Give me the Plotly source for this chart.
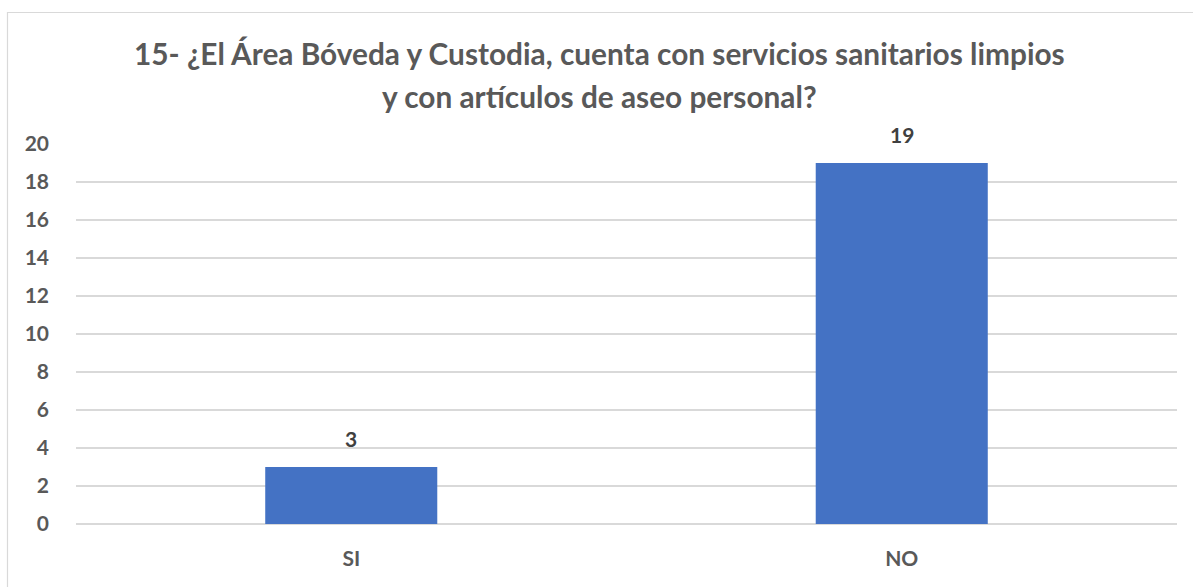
import plotly.graph_objects as go

categories = ["SI", "NO"]
values = [3, 19]
title_lines = ["15- ¿El Área Bóveda y Custodia, cuenta con servicios sanitarios limpios",
               "y con artículos de aseo personal?"]
y_ticks = list(range(0, 21, 2))

W, H = 1193, 587
ml, mr, mt, mb = 76, 16, 144, 63
pw, ph = W - ml - mr, H - mt - mb

def px2x(p):
    return (p - ml) / pw

def py2y(p):
    return (H - mb - p) / ph

fig = go.Figure(go.Bar(
    x=categories, y=values, width=0.3125,
    marker=dict(color="#4472C4", line=dict(width=0)),
    cliponaxis=False,
))

for c, v in zip(categories, values):
    fig.add_annotation(x=c, y=v, text=str(v), showarrow=False, yanchor="bottom",
                       yshift=14,
                       font=dict(family="Lato", size=21, color="#404040", weight="bold"))

title_centers_px = [53, 96]
for line, cy in zip(title_lines, title_centers_px):
    fig.add_annotation(xref="paper", yref="paper", x=px2x(W / 2 + 3), y=py2y(cy),
                       xanchor="center", yanchor="middle", showarrow=False, text=line,
                       font=dict(family="Lato", size=29.8, color="#595959", weight="bold"))

fig.update_layout(
    width=W, height=H,
    margin=dict(l=ml, r=mr, t=mt, b=mb),
    paper_bgcolor="white", plot_bgcolor="white",
    showlegend=False,
    xaxis=dict(showgrid=False, showline=False, ticks="",
               tickfont=dict(family="Lato", size=21, color="#595959", weight="bold"),
               ticklabelstandoff=20),
    yaxis=dict(range=[0, 20], tickvals=y_ticks, showgrid=True, gridcolor="#D9D9D9",
               gridwidth=1.5, zeroline=True, zerolinecolor="#D9D9D9", zerolinewidth=1.5,
               showline=False, ticks="",
               tickfont=dict(family="Lato", size=21, color="#595959", weight="bold"),
               ticklabelstandoff=26),
    bargap=0.6875,
    shapes=[dict(type="rect", xref="paper", yref="paper",
                 x0=px2x(7.5), x1=px2x(1198), y0=py2y(12.5), y1=py2y(600),
                 line=dict(color="#D9D9D9", width=1.2), fillcolor="rgba(0,0,0,0)")],
)

fig.write_html("out.html")
